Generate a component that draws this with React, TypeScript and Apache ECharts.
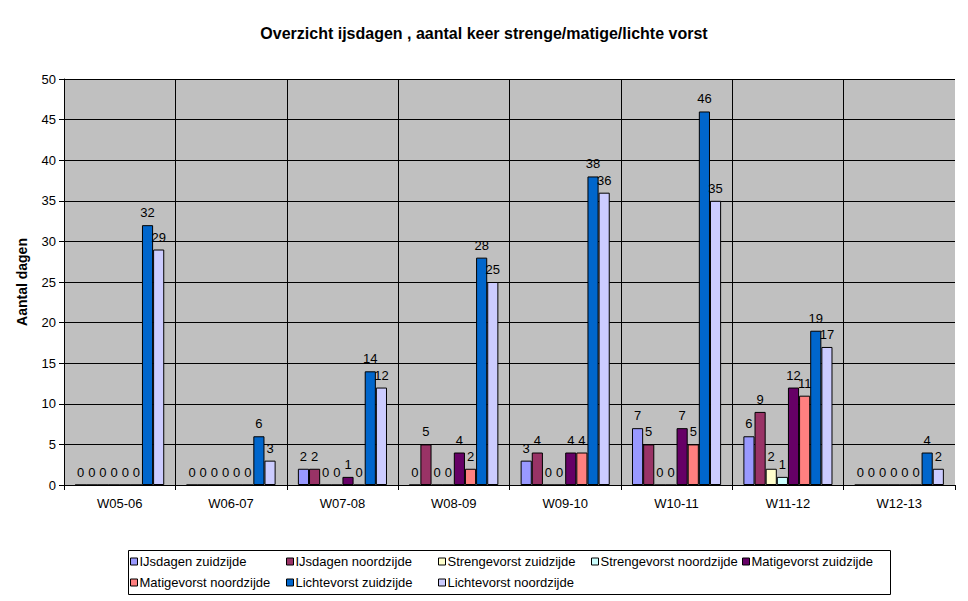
import { useEffect, useRef } from "react";
import * as echarts from "echarts";

// weken (winterseizoenen)
const categories = ["W05-06", "W06-07", "W07-08", "W08-09", "W09-10", "W10-11", "W11-12", "W12-13"];

const seriesNames = [
  "IJsdagen zuidzijde",
  "IJsdagen noordzijde",
  "Strengevorst zuidzijde",
  "Strengevorst noordzijde",
  "Matigevorst zuidzijde",
  "Matigevorst noordzijde",
  "Lichtevorst zuidzijde",
  "Lichtevorst noordzijde"
];

const colors = ["#9999FF", "#993366", "#FFFFCC", "#CCFFFF", "#660066", "#FF8080", "#0066CC", "#CCCCFF"];

const ijsdagenZuid = [0, 0, 2, 0, 3, 7, 6, 0];
const ijsdagenNoord = [0, 0, 2, 5, 4, 5, 9, 0];
const strengeZuid = [0, 0, 0, 0, 0, 0, 2, 0];
const strengeNoord = [0, 0, 0, 0, 0, 0, 1, 0];
const matigeZuid = [0, 0, 1, 4, 4, 7, 12, 0];
const matigeNoord = [0, 0, 0, 2, 4, 5, 11, 0];
const lichteZuid = [32, 6, 14, 28, 38, 46, 19, 4];
const lichteNoord = [29, 3, 12, 25, 36, 35, 17, 2];

const seriesValues = [ijsdagenZuid, ijsdagenNoord, strengeZuid, strengeNoord, matigeZuid, matigeNoord, lichteZuid, lichteNoord];

const yTicks = { min: 0, max: 50, interval: 5 };

const FONT = "'Liberation Sans', Arial, sans-serif";

// legenda-posities (kolommen / rijen zoals in Excel)
const legendCols = [130, 286, 438, 591, 742];
const legendRows = [555, 576];

function App() {
  const chartRef = useRef<HTMLDivElement>(null);

  useEffect(() => {
    document.body.style.margin = "0";
    const chart = echarts.init(chartRef.current, null, { renderer: "svg" });

    const legends = seriesNames.map((name, i) => ({
      data: [name],
      left: legendCols[i % 5],
      top: legendRows[Math.floor(i / 5)],
      padding: 0,
      icon: "rect",
      itemWidth: 7,
      itemHeight: 7,
      itemStyle: { borderColor: "#000", borderWidth: 1 },
      textStyle: { fontSize: 13, color: "#000", fontFamily: FONT, padding: [0, 0, 0, -3] },
      selectedMode: false
    }));

    chart.setOption({
      animation: false,
      backgroundColor: "#fff",
      textStyle: { fontFamily: FONT },
      title: {
        text: "Overzicht ijsdagen , aantal keer strenge/matige/lichte vorst",
        left: "center",
        top: 20,
        textStyle: { fontSize: 16, fontWeight: "bold", color: "#000", fontFamily: FONT }
      },
      graphic: [
        {
          type: "rect",
          z: -1,
          shape: { x: 128.5, y: 550.5, width: 762, height: 44 },
          style: { fill: "#fff", stroke: "#000", lineWidth: 1 }
        }
      ],
      legend: legends,
      grid: {
        left: 64,
        right: 13,
        top: 79,
        bottom: 116,
        show: true,
        backgroundColor: "#C0C0C0",
        borderWidth: 0
      },
      xAxis: {
        type: "category",
        data: categories,
        axisLine: { lineStyle: { color: "#000", width: 1 } },
        axisTick: { show: true, length: 5, lineStyle: { color: "#000" } },
        axisLabel: { color: "#000", fontSize: 13, margin: 12, fontFamily: FONT },
        splitLine: { show: true, showMinLine: false, showMaxLine: false, lineStyle: { color: "#000", width: 1 } }
      },
      yAxis: {
        type: "value",
        min: yTicks.min,
        max: yTicks.max,
        interval: yTicks.interval,
        name: "Aantal dagen",
        nameLocation: "middle",
        nameGap: 35,
        nameRotate: 90,
        nameTextStyle: { fontSize: 14, fontWeight: "bold", color: "#000", fontFamily: FONT },
        axisLine: { show: true, lineStyle: { color: "#000", width: 1 } },
        axisTick: { show: true, length: 5, lineStyle: { color: "#000" } },
        axisLabel: { color: "#000", fontSize: 13, margin: 8, fontFamily: FONT },
        splitLine: { show: true, lineStyle: { color: "#000", width: 1 } }
      },
      series: seriesNames.map((name, i) => ({
        name,
        type: "bar",
        data: seriesValues[i],
        barGap: "0%",
        barCategoryGap: "20%",
        itemStyle: { color: colors[i], borderColor: "#000", borderWidth: 1 },
        label: {
          show: true,
          position: "top",
          distance: 6,
          color: "#000",
          fontSize: 13,
          fontFamily: FONT
        }
      }))
    });

    return () => {
      chart.dispose();
    };
  }, []);

  return <div ref={chartRef} style={{ width: "968px", height: "601px" }}></div>;
}

export default App;
